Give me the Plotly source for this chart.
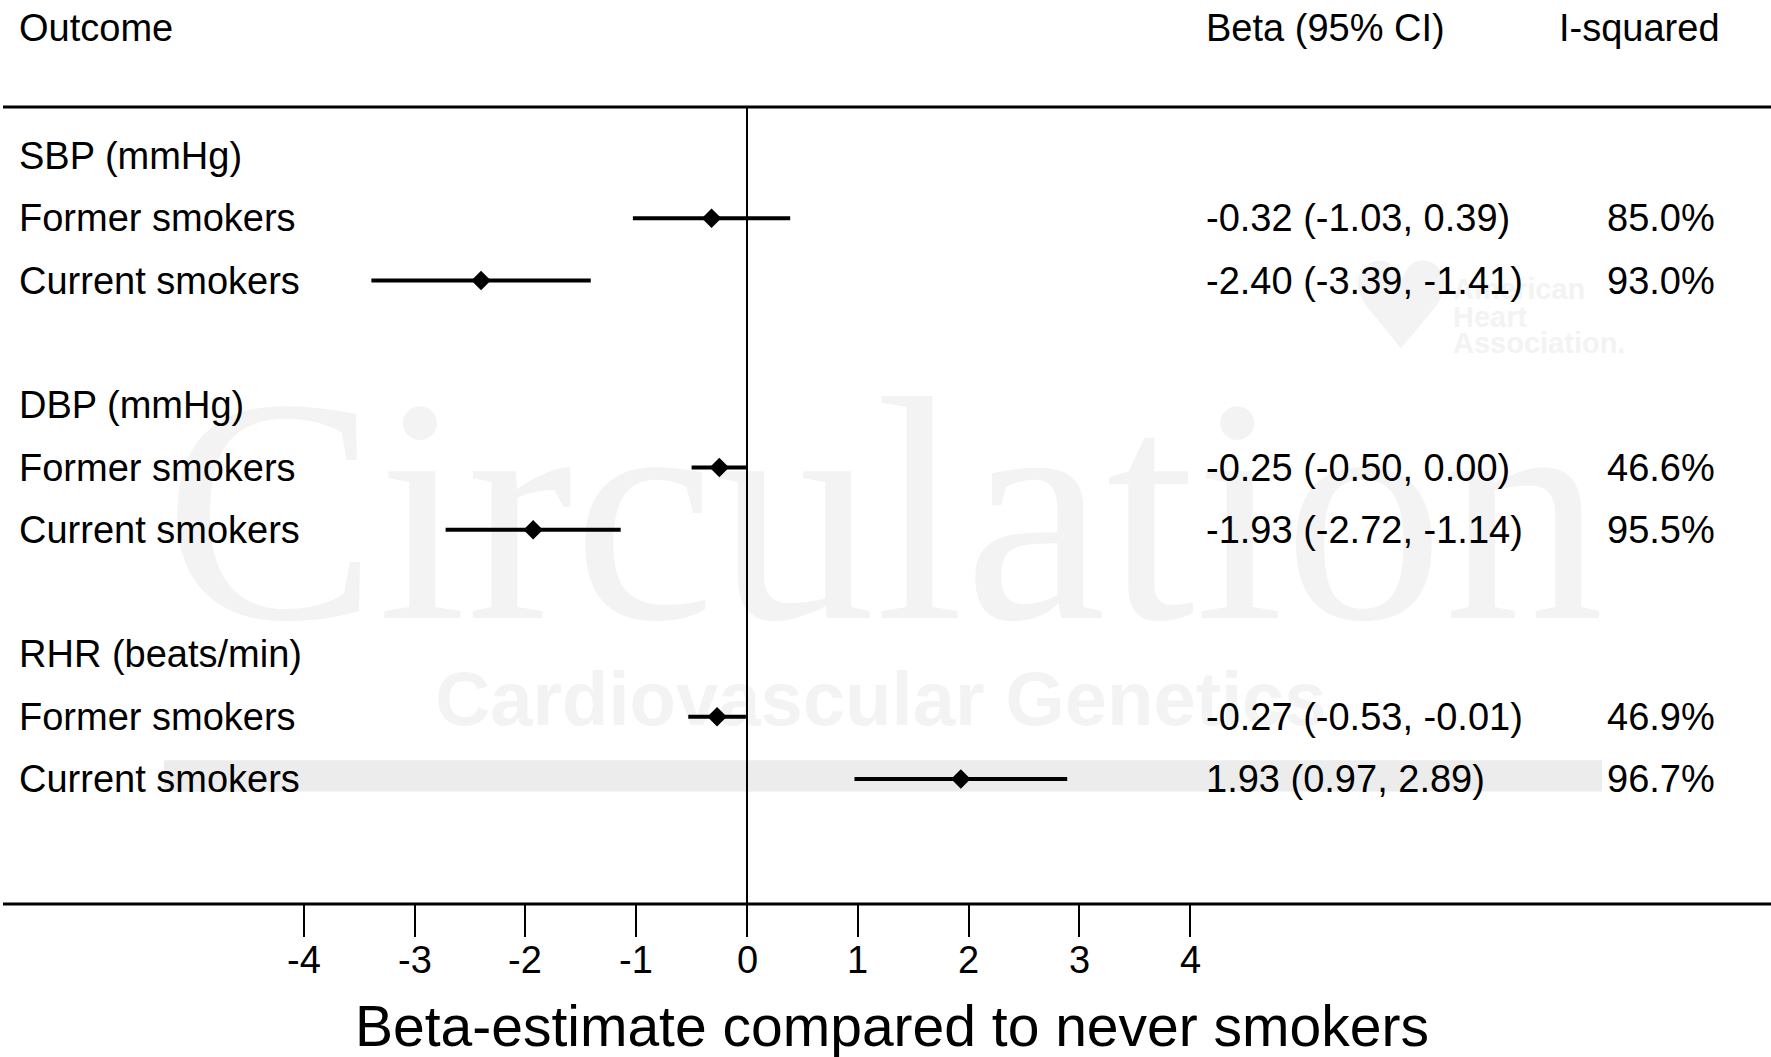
import plotly.graph_objects as go

# ---------------- data ----------------
outcomes = ["SBP (mmHg)", "DBP (mmHg)", "RHR (beats/min)"]
groups = ["Former smokers", "Current smokers"]
beta = [-0.32, -2.40, -0.25, -1.93, -0.27, 1.93]
ci_low = [-1.03, -3.39, -0.50, -2.72, -0.53, 0.97]
ci_high = [0.39, -1.41, 0.00, -1.14, -0.01, 2.89]
i_squared = [85.0, 93.0, 46.6, 95.5, 46.9, 96.7]
tick_vals = [-4, -3, -2, -1, 0, 1, 2, 3, 4]
tick_text = ["-4", "-3", "-2", "-1", "0", "1", "2", "3", "4"]

W, H = 1771, 1057
FONT = "Liberation Sans, Arial, sans-serif"
FS = 38

# pixel geometry helpers
x0_px, unit_px = 747.0, 110.8
row0_px, row_step = 156.0, 62.3
axis_px, top_px = 904.0, 107.0
xr = [-x0_px / unit_px, (W - x0_px) / unit_px]
yr = [(axis_px - row0_px) / row_step, -row0_px / row_step]


def px2x(px):
    return (px - x0_px) / unit_px


def py2r(py):
    return (py - row0_px) / row_step


# build rows
header_rows, est_rows = [], []
r = 0
for oi, name in enumerate(outcomes):
    header_rows.append((r, name))
    for gi, g in enumerate(groups):
        est_rows.append((r + 1 + gi, g))
    r += 4

fig = go.Figure()

# watermark (drawn first, under everything)
wm = "#f3f3f3"
fig.add_trace(go.Scatter(x=[px2x(884)], y=[py2r(538)], mode="text", text=["Circulation"],
                         textfont=dict(family="Liberation Serif, Times New Roman, serif", size=320, color=wm),
                         textposition="middle center", hoverinfo="skip", showlegend=False))
fig.add_trace(go.Scatter(x=[px2x(881)], y=[py2r(706)], mode="text", text=["<b>Cardiovascular Genetics</b>"],
                         textfont=dict(family=FONT, size=76, color=wm),
                         textposition="middle center", hoverinfo="skip", showlegend=False))
fig.add_trace(go.Scatter(x=[px2x(1401)], y=[py2r(318)], mode="text", text=["♥"],
                         textfont=dict(family="DejaVu Sans", size=120, color=wm),
                         textposition="middle center", hoverinfo="skip", showlegend=False))
fig.add_trace(go.Scatter(x=[px2x(1453)] * 3, y=[py2r(292), py2r(320), py2r(346)], mode="text",
                         text=["<b>American</b>", "<b>Heart</b>", "<b>Association.</b>"],
                         textfont=dict(family=FONT, size=29, color=wm),
                         textposition="middle right", hoverinfo="skip", showlegend=False))

# estimates with CIs
ys = [rr for rr, _ in est_rows]
fig.add_trace(go.Scatter(
    x=beta, y=ys, mode="markers",
    marker=dict(symbol="diamond", size=15, color="black"),
    error_x=dict(type="data", symmetric=False,
                 array=[h - b for h, b in zip(ci_high, beta)],
                 arrayminus=[b - l for b, l in zip(beta, ci_low)],
                 thickness=4, width=0, color="black"),
    hoverinfo="skip", showlegend=False))

ann = []
# headers
hy = 1 - 28 / H
ann.append(dict(x=17 / W, y=hy, xref="paper", yref="paper", text="Outcome", showarrow=False,
                xanchor="left", yanchor="middle", font=dict(size=FS)))
ann.append(dict(x=1204 / W, y=hy, xref="paper", yref="paper", text="Beta (95% CI)", showarrow=False,
                xanchor="left", yanchor="middle", font=dict(size=FS)))
ann.append(dict(x=1722 / W, y=hy, xref="paper", yref="paper", text="I-squared", showarrow=False,
                xanchor="right", yanchor="middle", font=dict(size=FS)))
for rr, name in header_rows:
    ann.append(dict(x=17 / W, y=rr, xref="paper", yref="y", text=name, showarrow=False,
                    xanchor="left", yanchor="middle", font=dict(size=FS)))
for i, (rr, name) in enumerate(est_rows):
    ann.append(dict(x=17 / W, y=rr, xref="paper", yref="y", text=name, showarrow=False,
                    xanchor="left", yanchor="middle", font=dict(size=FS)))
    ann.append(dict(x=1204 / W, y=rr, xref="paper", yref="y",
                    text=f"{beta[i]:.2f} ({ci_low[i]:.2f}, {ci_high[i]:.2f})", showarrow=False,
                    xanchor="left", yanchor="middle", font=dict(size=FS)))
    ann.append(dict(x=1717 / W, y=rr, xref="paper", yref="y", text=f"{i_squared[i]:.1f}%", showarrow=False,
                    xanchor="right", yanchor="middle", font=dict(size=FS)))
# tick labels (placed through the x scale)
for tv, tt in zip(tick_vals, tick_text):
    ann.append(dict(x=tv, y=1 - 960 / H, xref="x", yref="paper", text=tt, showarrow=False,
                    xanchor="center", yanchor="middle", font=dict(size=FS)))
# axis title
ann.append(dict(x=892 / W, y=1 - 1026 / H, xref="paper", yref="paper",
                text="Beta-estimate compared to never smokers", showarrow=False,
                xanchor="center", yanchor="middle", font=dict(size=57)))

dom_bottom = 1 - axis_px / H
shapes = [
    # highlight band behind last row
    dict(type="rect", xref="paper", yref="y", x0=164 / W, x1=1602 / W,
         y0=est_rows[-1][0] - 0.3, y1=est_rows[-1][0] + 0.2,
         fillcolor="#ececec", line=dict(width=0), layer="below"),
    dict(type="line", xref="paper", yref="paper", x0=3 / W, x1=1, y0=1 - top_px / H, y1=1 - top_px / H,
         line=dict(color="black", width=3)),
    dict(type="line", xref="paper", yref="paper", x0=3 / W, x1=1, y0=dom_bottom, y1=dom_bottom,
         line=dict(color="black", width=3)),
    dict(type="line", xref="x", yref="paper", x0=0, x1=0, y0=dom_bottom, y1=1 - top_px / H,
         line=dict(color="black", width=2)),
]

fig.update_layout(
    width=W, height=H,
    margin=dict(l=0, r=0, t=0, b=0),
    paper_bgcolor="white", plot_bgcolor="rgba(0,0,0,0)",
    font=dict(family=FONT, color="black", size=FS),
    annotations=ann, shapes=shapes,
    xaxis=dict(range=xr, showgrid=False, zeroline=False, showline=False,
               tickmode="array", tickvals=tick_vals, ticktext=tick_text, showticklabels=False,
               ticks="outside", ticklen=32, tickwidth=2, tickcolor="black", fixedrange=True),
    yaxis=dict(range=yr, domain=[dom_bottom, 1], showgrid=False, zeroline=False,
               showline=False, showticklabels=False, ticks="", fixedrange=True),
)

fig.write_html("out.html", config={"displayModeBar": False},
               post_script="document.body.style.margin='0';document.body.style.overflow='hidden';")
